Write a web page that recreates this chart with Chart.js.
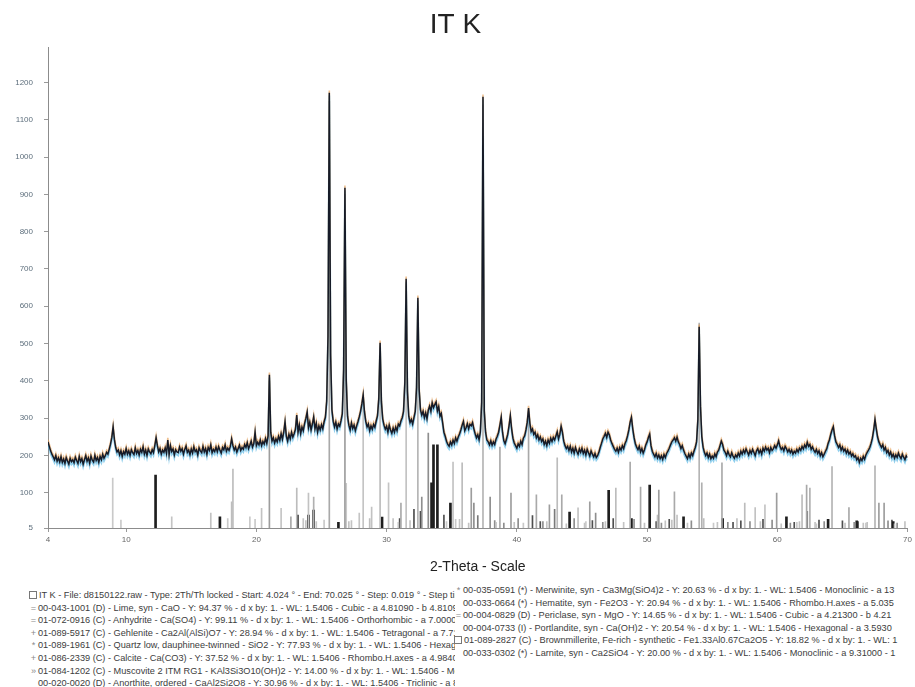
<!DOCTYPE html>
<html><head><meta charset="utf-8">
<script src="https://cdn.jsdelivr.net/npm/chart.js@4.4.1/dist/chart.umd.min.js"></script>
<style>
body{margin:0;background:#fff;}
#wrap{position:relative;width:915px;height:687px;overflow:hidden;background:#fff;}
#c{position:absolute;left:0;top:0;}
.col{position:absolute;font-family:'Liberation Sans',Arial,sans-serif;font-size:9.2px;color:#3c3c3c;line-height:12.6px;white-space:nowrap;overflow:hidden;}
.mk{display:inline-block;width:9px;color:#8a8a8a;text-align:center;}
.ic{display:inline-block;width:6px;height:6px;border:1px solid #777;margin-right:2px;vertical-align:-1px;}
</style></head>
<body>
<div id="wrap">
<canvas id="c" width="915" height="580"></canvas>
<div id="legL" class="col" style="left:29px;top:589px;width:426px;"></div>
<div id="legR" class="col" style="left:454px;top:584px;width:460px;"></div>
</div>
<script>
// ---- scan settings (category axis) ----
const startAngle = 4.0;
const stepAngle = 0.1;
// ---- measured intensity (counts), 4.0 .. 70.0 deg 2-theta ----
const intensity = [
236,224,212,203,196,188,199,184,193,182,
196,181,190,178,194,185,176,192,183,188,
180,195,186,178,197,183,191,176,188,199,
184,193,179,198,187,182,200,186,194,181,
197,188,203,192,199,208,203,216,230,248,
276,242,221,209,214,201,212,197,210,203,
218,203,212,200,215,207,202,220,205,213,
201,216,208,223,203,214,200,217,209,204,
215,207,226,247,226,209,218,203,214,208,
220,205,241,202,226,210,217,201,215,209,
207,222,211,218,203,216,225,208,214,202,
217,206,223,210,215,201,220,212,207,224,
209,218,203,221,213,228,207,216,210,222,
210,223,214,206,221,215,228,211,219,213,
224,244,226,214,222,209,218,227,213,221,
216,229,221,234,218,227,238,222,231,262,
226,235,228,241,226,237,230,245,232,252,
416,262,238,247,233,244,236,251,240,258,
243,262,290,251,238,256,244,262,249,258,
270,308,262,281,258,276,266,285,299,316,
274,289,268,284,303,271,286,262,279,268,
282,271,290,302,345,520,1173,470,322,291,
276,289,271,284,278,293,312,430,918,402,
305,281,268,287,272,281,266,279,290,303,
318,338,362,317,291,276,284,266,279,270,
283,275,292,306,352,502,344,298,281,270,
278,262,281,268,259,273,262,276,266,284,
279,292,301,318,395,674,372,305,288,296,
284,301,318,382,623,376,322,308,318,301,
314,298,321,332,318,341,328,336,343,319,
331,305,312,288,262,251,238,229,224,236,
228,241,232,247,238,249,257,268,281,291,
266,274,285,271,283,279,288,271,258,247,
255,242,263,342,1162,318,262,241,236,228,
239,227,236,229,243,251,262,281,302,262,
239,231,243,256,279,306,271,246,233,226,
219,231,224,238,229,246,252,268,289,327,
286,264,271,256,262,247,255,241,249,237,
244,229,238,226,241,232,246,237,248,241,
252,263,244,256,278,262,238,226,218,224,
213,224,209,219,206,221,211,203,217,208,
219,205,214,201,216,207,198,212,203,196,
205,194,199,208,221,232,244,251,259,248,
262,255,241,232,224,216,211,219,208,221,
214,226,218,231,239,252,268,289,302,271,
248,231,222,215,224,209,218,206,215,228,
236,248,257,226,211,203,196,205,193,201,
191,199,189,202,194,205,211,219,228,236,
241,247,238,249,236,229,218,226,214,205,
198,191,203,194,206,199,211,221,236,296,
545,332,251,222,208,199,206,194,203,191,
198,192,204,196,209,214,226,238,229,214,
208,199,211,202,196,207,198,192,201,195,
206,198,211,203,214,206,217,209,201,213,
205,216,208,199,212,218,206,214,203,219,
211,222,214,219,207,221,213,218,226,219,
228,239,224,216,221,212,224,218,209,216,
207,214,203,211,206,216,209,219,213,224,
217,228,221,235,224,229,216,223,214,208,
216,205,212,199,207,196,203,211,218,232,
241,256,268,277,252,236,229,221,228,214,
222,211,217,206,214,203,209,198,204,195,
199,188,194,181,192,186,197,189,201,208,
214,221,232,246,268,296,271,249,236,228,
221,229,214,221,207,213,201,209,196,203,
192,201,194,206,197,191,203,195,188,199,
194
];

// ---- tick labels ----
const xTickValues = [4,10,20,30,40,50,60,70];
const yTickValues = [5,100,200,300,400,500,600,700,800,900,1000,1100,1200];

// ---- reference stick patterns (2-theta, height in counts) ----
const limePos = [32.4,37.4,54.0,64.2,67.5];
const limeInt = [600,1140,555,170,172];
const anhydritePos = [22.65,25.6,31.1,38.7,40.9,41.5,43.45,48.7,49.5,52.1,55.75,62.25,65.5];
const anhydriteInt = [35,1150,72,222,314,94,94,182,115,102,180,120,60];
const gehlenitePos = [16.5,20.4,23.8,24.0,27.1,28.85,30.9,31.5,35.1,36.3,38.4,43.8,44.7,46.8,49.8,51.9,52.3,56.9,58.3,59.05,61.7,65.2,66.9,69.8];
const gehleniteInt = [45,58,25,99,22,61,20,660,182,18,20,16,59,22,18,26,40,30,60,67,22,18,20,22];
const quartzPos = [21.0,26.8,36.5,39.55,42.5,45.6,50.9,59.95,67.8,68.2];
const quartzInt = [400,900,112,99,67,75,107,99,72,72];
const calcitePos = [23.1,29.5,35.8,43.1,47.6,57.5,61.9];
const calciteInt = [112,490,180,193,112,72,94];
const muscovitePos = [8.97,9.6,17.8,19.5,19.9,25.2,26.9,34.6,35.3,40.5,45.3,55.1,61.5,63.0,66.8];
const muscoviteInt = [139,26,30,35,28,26,125,22,28,18,22,18,20,16,18];
const anorthitePos = [13.5,21.9,23.6,24.6,27.3,27.9,28.2,30.15,30.5,31.8,35.6,39.8,42.3,45.2,48.2,51.4,53.1,55.4,58.7,60.3,62.9,66.6,69.0];
const anorthiteInt = [35,58,30,22,25,45,350,126,30,25,28,20,22,18,20,24,18,20,22,16,20,18,16];
const merwinitePos = [32.7,33.2,36.7,37.95,38.3,39.0,40.1,42.0,44.4,46.05,46.6,49.0,51.1,53.4,56.2,57.9,59.6,61.0,63.6,65.9,68.5,69.2];
const merwiniteInt = [88,260,72,88,25,18,30,22,30,45,20,28,18,24,20,22,26,18,22,20,24,18];
const hematitePos = [24.4,54.2,62.5];
const hematiteInt = [88,126,112];
const periclasePos = [37.0,42.9,62.3];
const periclaseInt = [38,55,50];
const portlanditePos = [18.1,18.2,28.7,50.8,54.35];
const portlanditeInt = [75,163,30,40,30];
const brownmilleritePos = [12.26,17.2,23.15,24.0,24.4,26.3,29.65,33.45,33.6,33.9,34.9,44.05,47.05,48.8,50.2,52.8,55.8,60.7,63.9,66.1,68.9];
const brownmilleriteInt = [147,35,40,40,53,20,34,126,228,228,72,48,106,30,120,35,30,35,28,24,22];
const larnitePos = [31.0,32.1,32.6,34.4,41.2,41.8,45.8,47.4,50.7,51.7,56.6,57.2,58.9,61.3,63.2,65.0,66.2,68.8];
const larniteInt = [30,55,50,40,38,22,25,30,22,28,20,24,28,20,26,24,22,26];

// ---- legend texts ----
const legendLeft = [
 "IT K - File: d8150122.raw - Type: 2Th/Th locked - Start: 4.024 ° - End: 70.025 ° - Step: 0.019 ° - Step time: 1. s",
 "00-043-1001 (D) - Lime, syn - CaO - Y: 94.37 % - d x by: 1. - WL: 1.5406 - Cubic - a 4.81090 - b 4.81090 - c 4.81090",
 "01-072-0916 (C) - Anhydrite - Ca(SO4) - Y: 99.11 % - d x by: 1. - WL: 1.5406 - Orthorhombic - a 7.00000 - b 6.99000",
 "01-089-5917 (C) - Gehlenite - Ca2Al(AlSi)O7 - Y: 28.94 % - d x by: 1. - WL: 1.5406 - Tetragonal - a 7.71720 - b",
 "01-089-1961 (C) - Quartz low, dauphinee-twinned - SiO2 - Y: 77.93 % - d x by: 1. - WL: 1.5406 - Hexagonal - a",
 "01-086-2339 (C) - Calcite - Ca(CO3) - Y: 37.52 % - d x by: 1. - WL: 1.5406 - Rhombo.H.axes - a 4.98400 - b",
 "01-084-1202 (C) - Muscovite 2 ITM RG1 - KAl3Si3O10(OH)2 - Y: 14.00 % - d x by: 1. - WL: 1.5406 - Monoclinic",
 "00-020-0020 (D) - Anorthite, ordered - CaAl2Si2O8 - Y: 30.96 % - d x by: 1. - WL: 1.5406 - Triclinic - a 8.1"
];
const legendLeftMarks = ["", "=", "=", "+", "*", "+", "»", ""];
const legendRight = [
 "00-035-0591 (*) - Merwinite, syn - Ca3Mg(SiO4)2 - Y: 20.63 % - d x by: 1. - WL: 1.5406 - Monoclinic - a 13",
 "00-033-0664 (*) - Hematite, syn - Fe2O3 - Y: 20.94 % - d x by: 1. - WL: 1.5406 - Rhombo.H.axes - a 5.035",
 "00-004-0829 (D) - Periclase, syn - MgO - Y: 14.65 % - d x by: 1. - WL: 1.5406 - Cubic - a 4.21300 - b 4.21",
 "00-004-0733 (I) - Portlandite, syn - Ca(OH)2 - Y: 20.54 % - d x by: 1. - WL: 1.5406 - Hexagonal - a 3.5930",
 "01-089-2827 (C) - Brownmillerite, Fe-rich - synthetic - Fe1.33Al0.67Ca2O5 - Y: 18.82 % - d x by: 1. - WL: 1",
 "00-033-0302 (*) - Larnite, syn - Ca2SiO4 - Y: 20.00 % - d x by: 1. - WL: 1.5406 - Monoclinic - a 9.31000 - 1"
];
const legendRightMarks = ["*", "", "=", "", "+", ""];

// ---- styles ----
const phaseStyle = {
 Lime:{c:'#b4b4b4',w:1}, Anhydrite:{c:'#a9a9a9',w:1}, Gehlenite:{c:'#c2c2c2',w:1},
 Quartz:{c:'#9d9d9d',w:1}, Calcite:{c:'#bcbcbc',w:1}, Muscovite:{c:'#c9c9c9',w:1},
 Anorthite:{c:'#c4c4c4',w:1}, Merwinite:{c:'#8e8e8e',w:1}, Hematite:{c:'#b0b0b0',w:1},
 Periclase:{c:'#7a7a7a',w:1}, Portlandite:{c:'#bdbdbd',w:1}, Brownmillerite:{c:'#1e1e1e',w:2},
 Larnite:{c:'#4e4e4e',w:1}
};
const phases = [
 ['Lime',limePos,limeInt],['Anhydrite',anhydritePos,anhydriteInt],['Gehlenite',gehlenitePos,gehleniteInt],
 ['Quartz',quartzPos,quartzInt],['Calcite',calcitePos,calciteInt],['Muscovite',muscovitePos,muscoviteInt],
 ['Anorthite',anorthitePos,anorthiteInt],['Merwinite',merwinitePos,merwiniteInt],['Hematite',hematitePos,hematiteInt],
 ['Periclase',periclasePos,periclaseInt],['Portlandite',portlanditePos,portlanditeInt],
 ['Brownmillerite',brownmilleritePos,brownmilleriteInt],['Larnite',larnitePos,larniteInt]
];

// legends
const legL = document.getElementById('legL');
legendLeft.forEach((t,i)=>{
  const d=document.createElement('div');
  const m=document.createElement('span'); m.className=i===0?'ic':'mk'; m.textContent=i===0?'':legendLeftMarks[i];
  d.appendChild(m); d.appendChild(document.createTextNode(t)); legL.appendChild(d);
});
const legR = document.getElementById('legR');
legendRight.forEach((t,i)=>{
  const d=document.createElement('div');
  const m=document.createElement('span'); m.className=i===4?'ic':'mk'; m.textContent=i===4?'':legendRightMarks[i];
  d.appendChild(m); d.appendChild(document.createTextNode(t)); legR.appendChild(d);
});

const trace = intensity.map((v,i)=>({x: Math.round((startAngle + i*stepAngle)*1000)/1000, y: v}));

const datasets = [
 {type:'line', label:'IT K', data:trace, borderColor:'#161b28', borderWidth:1.5, pointRadius:0, tension:0, order:0},
 {type:'line', label:'fringe-o', data:trace, borderColor:'rgba(226,150,70,0.6)', borderWidth:1.6, pointRadius:0, tension:0, order:1, shiftY:-2.2},
 {type:'line', label:'fringe-c', data:trace, borderColor:'rgba(70,175,225,0.6)', borderWidth:1.8, pointRadius:0, tension:0, order:1, shiftY:2.8}
];
phases.forEach(([name,pos,h])=>{
  const st = phaseStyle[name];
  datasets.push({type:'bar', label:name, data:pos.map((p,i)=>({x:p,y:h[i]})),
    backgroundColor:st.c, borderWidth:0, barThickness:st.w, grouped:false, order:5});
});

const fringe = {id:'fringe',
  beforeDatasetDraw(chart,args){ const s=chart.data.datasets[args.index].shiftY; chart.ctx.save(); if(s) chart.ctx.translate(0,s); },
  afterDatasetDraw(chart){ chart.ctx.restore(); }
};

const tickFont = {family:"'Liberation Sans', Arial, sans-serif", size:8};
new Chart(document.getElementById('c'), {
  type:'bar',
  data:{datasets},
  plugins:[fringe],
  options:{
    responsive:false, animation:false, devicePixelRatio:1,
    layout:{padding:{left:0,right:4,top:0,bottom:0}},
    plugins:{
      legend:{display:false}, tooltip:{enabled:false},
      title:{display:true, text:'IT K', color:'#222', font:{family:"'Liberation Sans', Arial, sans-serif", size:28, weight:'normal'}, padding:{top:8,bottom:6}}
    },
    scales:{
      x:{type:'linear', min:4, max:70, offset:false,
         afterBuildTicks:(s)=>{ s.ticks = xTickValues.map(v=>({value:v})); },
         afterFit:(s)=>{ s.height = 52; },
         ticks:{font:tickFont, color:'#666', padding:3, maxRotation:0, autoSkip:false, callback:(v)=>String(v)},
         grid:{display:true, drawOnChartArea:false, drawTicks:true, tickLength:4, color:'#999', offset:false},
         border:{display:true, color:'#8c8c8c', width:1},
         title:{display:true, text:'2-Theta - Scale', color:'#222', font:{family:"'Liberation Sans', Arial, sans-serif", size:14}, padding:{top:0,bottom:4}}
      },
      y:{type:'linear', min:5, max:1294,
         afterBuildTicks:(s)=>{ s.ticks = yTickValues.map(v=>({value:v})); },
         afterFit:(s)=>{ s.width = 48; },
         ticks:{font:tickFont, color:'#5d6e7c', padding:11, autoSkip:false, callback:(v)=>String(v)},
         grid:{display:true, drawOnChartArea:false, drawTicks:true, tickLength:4, color:'#999'},
         border:{display:true, color:'#8c8c8c', width:1}
      }
    }
  }
});
</script>
</body></html>
